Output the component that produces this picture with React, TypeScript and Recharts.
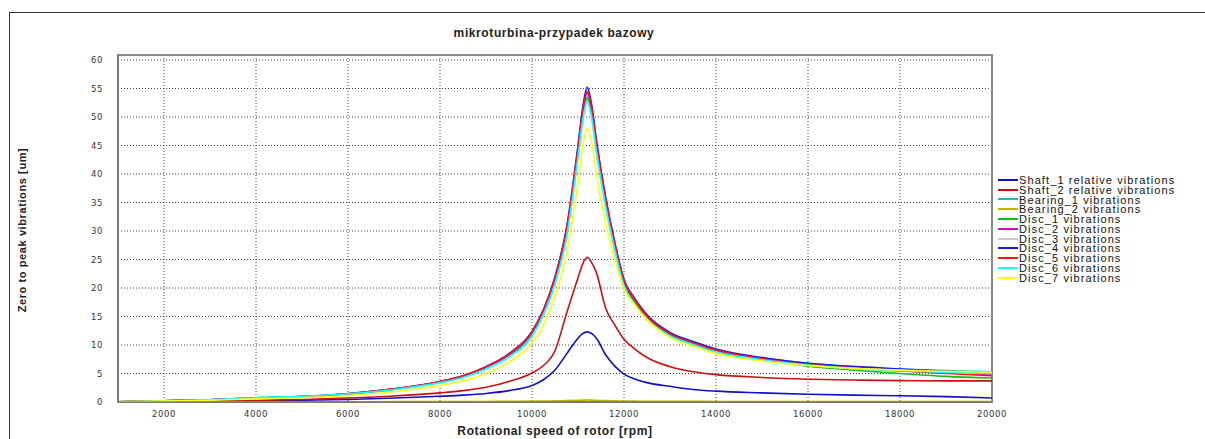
import React from "react";
import {
  LineChart,
  Line,
  XAxis,
  YAxis,
  CartesianGrid,
  ReferenceArea,
} from "recharts";

// rotational speed [rpm]
const RPM = [1000, 2000, 3000, 4000, 5000, 6000, 7000, 8000, 8500, 9000, 9500, 10000, 10250, 10500, 10750, 11000, 11100, 11200, 11300, 11400, 11600, 11800, 12000, 12250, 12500, 13000, 13500, 14000, 15000, 16000, 17000, 18000, 19000, 20000];

// zero to peak vibrations [um]
const SHAFT_1 = [0.02, 0.05, 0.1, 0.2, 0.3, 0.45, 0.7, 1.0, 1.2, 1.5, 2.0, 2.9, 3.9, 5.6, 8.4, 11.2, 12.0, 12.3, 12.0, 11.2, 8.3, 6.3, 4.9, 4.0, 3.4, 2.75, 2.2, 1.9, 1.6, 1.35, 1.2, 1.1, 0.95, 0.7];
const SHAFT_2 = [0.03, 0.08, 0.15, 0.3, 0.45, 0.7, 1.05, 1.6, 2.0, 2.6, 3.6, 5.1, 6.4, 9.0, 15.5, 21.8, 24.2, 25.4, 24.4, 22.7, 16.5, 13.5, 11.0, 9.2, 7.8, 6.2, 5.3, 4.8, 4.3, 4.0, 3.85, 3.75, 3.7, 3.7];
const BEARING_1 = [0.05, 0.2, 0.4, 0.75, 1.0, 1.5, 2.3, 3.5, 4.4, 6.0, 8.1, 11.9, 15.7, 21.2, 29.4, 43.5, 49.7, 53.2, 50.2, 44.5, 34.9, 27.2, 20.9, 17.5, 14.9, 11.9, 10.4, 9.1, 7.7, 6.8, 6.2, 5.8, 5.5, 5.3];
const BEARING_2 = [0, 0.01, 0.02, 0.03, 0.04, 0.05, 0.06, 0.08, 0.09, 0.1, 0.12, 0.15, 0.17, 0.2, 0.25, 0.3, 0.33, 0.35, 0.33, 0.3, 0.25, 0.2, 0.17, 0.15, 0.14, 0.12, 0.11, 0.1, 0.09, 0.08, 0.08, 0.07, 0.07, 0.07];
const DISC_1 = [0.05, 0.2, 0.4, 0.7, 0.9, 1.4, 2.2, 3.5, 4.4, 6.0, 8.2, 12.0, 15.8, 21.3, 29.6, 43.8, 50.0, 53.5, 50.5, 44.8, 35.1, 27.3, 20.9, 17.4, 14.8, 11.8, 10.2, 8.9, 7.4, 6.3, 5.6, 5.0, 4.5, 4.2];
const DISC_2 = [0.05, 0.2, 0.4, 0.7, 0.95, 1.4, 2.25, 3.55, 4.5, 6.1, 8.3, 12.2, 16.0, 21.6, 30.0, 44.3, 50.6, 54.2, 51.2, 45.3, 35.5, 27.6, 21.2, 17.7, 15.0, 12.0, 10.4, 9.1, 7.6, 6.6, 6.0, 5.5, 5.1, 4.8];
const DISC_3 = [0.05, 0.2, 0.4, 0.7, 0.95, 1.4, 2.2, 3.4, 4.3, 5.8, 7.9, 11.5, 15.3, 20.7, 28.8, 42.8, 49.0, 52.6, 49.6, 43.8, 34.3, 26.6, 20.3, 16.9, 14.4, 11.5, 10.0, 8.7, 7.3, 6.4, 5.8, 5.4, 5.1, 5.0];
const DISC_4 = [0.05, 0.2, 0.4, 0.7, 0.95, 1.45, 2.3, 3.6, 4.6, 6.2, 8.5, 12.4, 16.2, 22.0, 30.5, 45.0, 51.5, 55.2, 52.0, 46.0, 36.0, 28.0, 21.5, 18.0, 15.3, 12.2, 10.6, 9.3, 7.8, 6.8, 6.2, 5.8, 5.4, 5.1];
const DISC_5 = [0.05, 0.2, 0.4, 0.7, 0.95, 1.45, 2.3, 3.6, 4.6, 6.2, 8.4, 12.3, 16.1, 21.8, 30.2, 44.6, 51.0, 54.5, 51.5, 45.6, 35.7, 27.8, 21.3, 17.8, 15.1, 12.0, 10.4, 9.1, 7.6, 6.6, 6.0, 5.5, 5.0, 4.6];
const DISC_6 = [0.05, 0.2, 0.4, 0.75, 1.0, 1.45, 2.2, 3.4, 4.3, 5.8, 7.9, 11.6, 15.4, 20.8, 28.9, 43.0, 49.3, 52.9, 49.8, 44.0, 34.4, 26.7, 20.4, 17.0, 14.5, 11.6, 10.1, 8.8, 7.4, 6.5, 5.9, 5.5, 5.2, 5.0];
const DISC_7 = [0.05, 0.15, 0.3, 0.55, 0.75, 1.15, 1.8, 2.9, 3.7, 5.0, 7.0, 10.3, 13.5, 18.5, 26.0, 38.5, 44.5, 48.0, 45.5, 40.0, 31.5, 25.0, 19.8, 16.8, 14.5, 11.3, 9.8, 8.5, 7.2, 6.4, 5.9, 5.6, 5.4, 5.2];

const X_TICKS = [2000, 4000, 6000, 8000, 10000, 12000, 14000, 16000, 18000, 20000];
const Y_TICKS = [0, 5, 10, 15, 20, 25, 30, 35, 40, 45, 50, 55, 60];

const SERIES = [
  { key: "shaft1", name: "Shaft_1 relative vibrations", color: "#1010c8", values: SHAFT_1 },
  { key: "shaft2", name: "Shaft_2 relative vibrations", color: "#c81010", values: SHAFT_2 },
  { key: "bearing1", name: "Bearing_1 vibrations", color: "#10c0c0", values: BEARING_1 },
  { key: "bearing2", name: "Bearing_2 vibrations", color: "#c0b400", values: BEARING_2 },
  { key: "disc1", name: "Disc_1 vibrations", color: "#10c010", values: DISC_1 },
  { key: "disc2", name: "Disc_2 vibrations", color: "#c810c8", values: DISC_2 },
  { key: "disc3", name: "Disc_3 vibrations", color: "#c8c8c8", values: DISC_3 },
  { key: "disc4", name: "Disc_4 vibrations", color: "#1414ff", values: DISC_4 },
  { key: "disc5", name: "Disc_5 vibrations", color: "#ff1414", values: DISC_5 },
  { key: "disc6", name: "Disc_6 vibrations", color: "#14ffff", values: DISC_6 },
  { key: "disc7", name: "Disc_7 vibrations", color: "#ffff14", values: DISC_7 },
];

const data = RPM.map((rpm, i) => {
  const row: any = { rpm };
  SERIES.forEach((s) => (row[s.key] = s.values[i]));
  return row;
});

const FONT = "'Liberation Sans', Arial, sans-serif";
const WIDE_FONT = "'DejaVu Sans', sans-serif";

function LegendBox() {
  return (
    <div style={{ position: "absolute", left: 998, top: 175, fontFamily: FONT, fontSize: 11, letterSpacing: 1.1, color: "#111", whiteSpace: "nowrap" }}>
      {SERIES.map((s) => (
        <div key={s.key} style={{ display: "flex", alignItems: "center", height: 9.8 }}>
          <div style={{ width: 20, height: 2, background: s.color, marginRight: 1 }} />
          <span style={{ lineHeight: "10px" }}>{s.name}</span>
        </div>
      ))}
    </div>
  );
}

const titleStyle: React.CSSProperties = {
  fontFamily: FONT,
  fontSize: 12,
  fontWeight: "bold",
  letterSpacing: 0.6,
  color: "#222",
  whiteSpace: "nowrap",
};

export default function App() {
  return (
    <div style={{ position: "absolute", left: 0, top: 0, width: 1205, height: 439, overflow: "hidden", background: "#fff" }}>
      {/* outer frame */}
      <div style={{ position: "absolute", left: 9, top: 12, width: 1300, height: 500, borderLeft: "1px solid #333", borderTop: "1px solid #333" }} />

      <div style={{ ...titleStyle, position: "absolute", left: 0, top: 26, width: 1108, textAlign: "center" }}>
        mikroturbina-przypadek bazowy
      </div>

      <div
        style={{
          ...titleStyle,
          fontSize: 11,
          position: "absolute",
          left: 22,
          top: 230,
          transform: "translate(-50%, -50%) rotate(-90deg)",
        }}
      >
        Zero to peak vibrations [um]
      </div>

      <div style={{ ...titleStyle, position: "absolute", left: 0, top: 424, width: 1110, textAlign: "center" }}>
        Rotational speed of rotor [rpm]
      </div>

      <LineChart
        width={1205}
        height={439}
        data={data}
        margin={{ top: 55, right: 213, left: 58, bottom: 17 }}
        style={{ position: "absolute", left: 0, top: 0 }}
      >
        <CartesianGrid stroke="#444" strokeDasharray="1 2" />
        <XAxis
          dataKey="rpm"
          type="number"
          domain={[1000, 20000]}
          ticks={X_TICKS}
          height={20}
          tickLine={false}
          tickSize={0}
          tickMargin={9}
          axisLine={{ stroke: "#666", strokeWidth: 1 }}
          tick={{ fontSize: 8.5, fill: "#333", fontFamily: WIDE_FONT, letterSpacing: 0.6 }}
          allowDataOverflow
        />
        <YAxis
          type="number"
          domain={[0, 60.88]}
          ticks={Y_TICKS}
          width={60}
          tickLine={false}
          tickSize={0}
          tickMargin={15}
          axisLine={{ stroke: "#777", strokeWidth: 2 }}
          tick={{ fontSize: 8.5, fill: "#333", fontFamily: WIDE_FONT, letterSpacing: 0.6 }}
          allowDataOverflow
        />
        <ReferenceArea x1={1000} x2={20000} y1={0} y2={60.88} fill="none" stroke="#888" strokeWidth={2} />
        {SERIES.map((s) => (
          <Line
            key={s.key}
            type="monotone"
            dataKey={s.key}
            name={s.name}
            stroke={s.color}
            strokeWidth={1.6}
            dot={false}
            isAnimationActive={false}
          />
        ))}
      </LineChart>

      <LegendBox />
    </div>
  );
}
